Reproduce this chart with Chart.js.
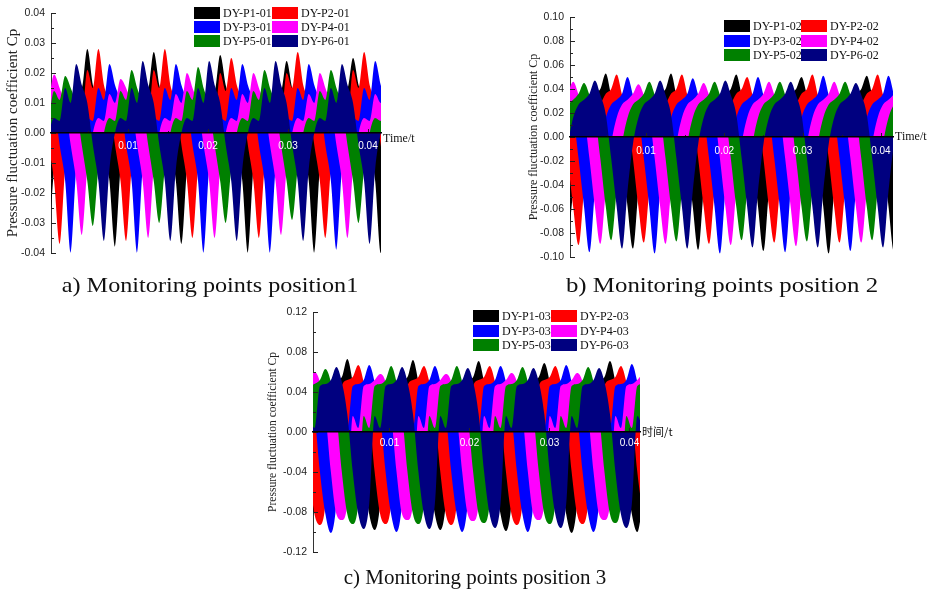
<!DOCTYPE html>
<html><head><meta charset="utf-8">
<script src="https://cdn.jsdelivr.net/npm/chart.js@4.4.1/dist/chart.umd.min.js"></script>
<style>
html,body{margin:0;padding:0;background:#fff;}
#wrap{position:relative;width:930px;height:592px;overflow:hidden;background:#fff;}
canvas{position:absolute;left:0;top:0;}
.cap{position:absolute;font-family:"Liberation Serif","Times New Roman",serif;font-size:22px;color:#111;white-space:nowrap;}
</style></head><body>
<div id="wrap">
<canvas id="ca" width="930" height="592"></canvas>
<canvas id="cb" width="930" height="592"></canvas>
<canvas id="cc" width="930" height="592"></canvas>
<div class="cap" style="left:210px;top:285px;transform:translate(-50%,-50%) scaleX(1.10);">a) Monitoring points position1</div>
<div class="cap" style="left:722px;top:285px;transform:translate(-50%,-50%) scaleX(1.13);">b) Monitoring points position 2</div>
<div class="cap" style="left:475px;top:577px;font-size:21px;transform:translate(-50%,-50%);">c) Monitoring points position 3</div>
</div>
<script>
// ---------- data ----------
const SERIES_NAMES = ['DY-P1','DY-P2','DY-P3','DY-P4','DY-P5','DY-P6'];
const COLORS = ['#000000','#ff0000','#0000ff','#ff00ff','#008000','#000080'];
const X_TICKS = [0.01, 0.02, 0.03, 0.04];
const Y_TICKS_A = [-0.04,-0.03,-0.02,-0.01,0,0.01,0.02,0.03,0.04];
const Y_TICKS_B = [-0.10,-0.08,-0.06,-0.04,-0.02,0,0.02,0.04,0.06,0.08,0.10];
const Y_TICKS_C = [-0.12,-0.08,-0.04,0,0.04,0.08,0.12];

// sampling of the time series (start, step) for each panel
const T0_A = 0.000069, DT_A = 0.000692;
const T0_B = 0.000000, DT_B = 0.0006944;
const T0_C = -0.000063, DT_C = 0.000684;

// Panel a) position 1
const A_P1 = [-0.038,-0.012,0.000,0.005,0.004,0.020,0.015,0.028,0.016,0.010,-0.004,-0.016,
 -0.038,-0.012,0.000,0.005,0.004,0.020,0.015,0.027,0.016,0.010,-0.004,-0.016,
 -0.037,-0.012,0.000,0.005,0.004,0.019,0.014,0.026,0.016,0.010,-0.004,-0.016,
 -0.040,-0.012,0.000,0.005,0.004,0.018,0.014,0.024,0.015,0.010,-0.004,-0.016,
 -0.040,-0.012,0.000,0.005,0.004,0.019,0.015,0.025,0.016,0.010,-0.004,-0.016,
 -0.040,-0.012];
const A_P2 = [-0.004,-0.016,-0.037,-0.012,0.000,0.005,0.004,0.021,0.015,0.028,0.016,0.010,
 -0.004,-0.016,-0.036,-0.012,0.000,0.005,0.004,0.021,0.015,0.028,0.016,0.010,
 -0.004,-0.016,-0.035,-0.012,0.000,0.005,0.004,0.020,0.014,0.025,0.016,0.010,
 -0.004,-0.016,-0.035,-0.012,0.000,0.005,0.004,0.020,0.015,0.027,0.016,0.010,
 -0.004,-0.016,-0.035,-0.012,0.000,0.005,0.004,0.021,0.015,0.027,0.016,0.010,
 -0.004,-0.016];
const A_P3 = [0.016,0.010,-0.004,-0.016,-0.040,-0.012,0.000,0.005,0.004,0.015,0.011,0.023,
 0.016,0.010,-0.004,-0.016,-0.040,-0.012,0.000,0.005,0.004,0.015,0.011,0.023,
 0.016,0.010,-0.004,-0.016,-0.040,-0.012,0.000,0.005,0.004,0.015,0.011,0.023,
 0.016,0.010,-0.004,-0.016,-0.040,-0.012,0.000,0.005,0.004,0.015,0.011,0.023,
 0.016,0.010,-0.004,-0.016,-0.039,-0.012,0.000,0.005,0.004,0.015,0.011,0.024,
 0.016,0.010];
const A_P4 = [0.010,0.0195,0.015,0.009,-0.004,-0.016,-0.034,-0.012,0.000,0.005,0.004,0.013,
 0.010,0.018,0.015,0.009,-0.004,-0.016,-0.035,-0.012,0.000,0.005,0.004,0.013,
 0.010,0.020,0.015,0.009,-0.004,-0.016,-0.035,-0.012,0.000,0.005,0.004,0.013,
 0.010,0.020,0.015,0.009,-0.004,-0.016,-0.034,-0.012,0.000,0.005,0.004,0.013,
 0.010,0.020,0.015,0.009,-0.004,-0.016,-0.035,-0.012,0.000,0.005,0.004,0.013,
 0.010,0.018];
const A_P5 = [0.004,0.014,0.011,0.019,0.015,0.009,-0.004,-0.016,-0.031,-0.012,0.000,0.005,
 0.004,0.014,0.011,0.021,0.015,0.009,-0.004,-0.016,-0.030,-0.012,0.000,0.005,
 0.004,0.014,0.011,0.022,0.015,0.009,-0.004,-0.016,-0.030,-0.012,0.000,0.005,
 0.004,0.014,0.011,0.021,0.015,0.009,-0.004,-0.016,-0.029,-0.012,0.000,0.005,
 0.004,0.014,0.011,0.021,0.015,0.009,-0.004,-0.016,-0.030,-0.012,0.000,0.005,
 0.004,0.014];
const A_P6 = [0.000,0.005,0.004,0.015,0.010,0.023,0.016,0.010,-0.004,-0.016,-0.036,-0.012,
 0.000,0.005,0.004,0.015,0.010,0.024,0.016,0.010,-0.004,-0.016,-0.036,-0.012,
 0.000,0.005,0.004,0.015,0.010,0.024,0.016,0.010,-0.004,-0.016,-0.036,-0.012,
 0.000,0.005,0.004,0.015,0.010,0.024,0.016,0.010,-0.004,-0.016,-0.036,-0.012,
 0.000,0.005,0.004,0.015,0.010,0.023,0.016,0.010,-0.004,-0.016,-0.037,-0.012,
 0.000,0.005];

// Panel b) position 2
const B_P1 = [-0.094,-0.045,-0.006,0.016,0.027,0.036,0.040,0.053,0.035,0.019,-0.018,-0.058,
 -0.093,-0.045,-0.006,0.016,0.027,0.036,0.040,0.053,0.035,0.019,-0.018,-0.058,
 -0.094,-0.045,-0.006,0.016,0.027,0.036,0.040,0.052,0.035,0.019,-0.018,-0.058,
 -0.095,-0.045,-0.006,0.016,0.027,0.036,0.040,0.050,0.035,0.019,-0.018,-0.058,
 -0.097,-0.045,-0.006,0.016,0.027,0.036,0.040,0.051,0.035,0.019,-0.018,-0.058,
 -0.096,-0.045];
const B_P2 = [-0.018,-0.058,-0.090,-0.045,-0.006,0.016,0.027,0.036,0.040,0.052,0.035,0.019,
 -0.018,-0.058,-0.088,-0.045,-0.006,0.016,0.027,0.036,0.040,0.052,0.035,0.019,
 -0.018,-0.058,-0.089,-0.045,-0.006,0.016,0.027,0.036,0.040,0.050,0.035,0.019,
 -0.018,-0.058,-0.088,-0.045,-0.006,0.016,0.027,0.036,0.040,0.052,0.035,0.019,
 -0.018,-0.058,-0.088,-0.045,-0.006,0.016,0.027,0.036,0.040,0.052,0.035,0.019,
 -0.018,-0.058];
const B_P3 = [0.035,0.019,-0.018,-0.058,-0.096,-0.045,-0.006,0.016,0.027,0.031,0.036,0.050,
 0.035,0.019,-0.018,-0.058,-0.097,-0.045,-0.006,0.016,0.027,0.031,0.036,0.049,
 0.035,0.019,-0.018,-0.058,-0.097,-0.045,-0.006,0.016,0.027,0.031,0.036,0.050,
 0.035,0.019,-0.018,-0.058,-0.096,-0.045,-0.006,0.016,0.027,0.031,0.036,0.051,
 0.035,0.019,-0.018,-0.058,-0.095,-0.045,-0.006,0.016,0.027,0.031,0.036,0.051,
 0.035,0.019];
const B_P4 = [0.036,0.046,0.035,0.019,-0.018,-0.058,-0.089,-0.045,-0.006,0.016,0.027,0.031,
 0.036,0.044,0.035,0.019,-0.018,-0.058,-0.089,-0.045,-0.006,0.016,0.027,0.031,
 0.036,0.045,0.035,0.019,-0.018,-0.058,-0.090,-0.045,-0.006,0.016,0.027,0.031,
 0.036,0.046,0.035,0.019,-0.018,-0.058,-0.091,-0.045,-0.006,0.016,0.027,0.031,
 0.036,0.046,0.035,0.019,-0.018,-0.058,-0.088,-0.045,-0.006,0.016,0.027,0.031,
 0.036,0.046];
const B_P5 = [0.027,0.031,0.036,0.045,0.035,0.019,-0.018,-0.058,-0.086,-0.045,-0.006,0.016,
 0.027,0.031,0.036,0.046,0.035,0.019,-0.018,-0.058,-0.087,-0.045,-0.006,0.016,
 0.027,0.031,0.036,0.046,0.035,0.019,-0.018,-0.058,-0.086,-0.045,-0.006,0.016,
 0.027,0.031,0.036,0.046,0.035,0.019,-0.018,-0.058,-0.087,-0.045,-0.006,0.016,
 0.027,0.031,0.036,0.046,0.035,0.019,-0.018,-0.058,-0.086,-0.045,-0.006,0.016,
 0.027,0.031];
const B_P6 = [-0.006,0.016,0.027,0.031,0.036,0.047,0.035,0.019,-0.018,-0.058,-0.093,-0.045,
 -0.006,0.016,0.027,0.031,0.036,0.047,0.035,0.019,-0.018,-0.058,-0.093,-0.045,
 -0.006,0.016,0.027,0.031,0.036,0.047,0.035,0.019,-0.018,-0.058,-0.092,-0.045,
 -0.006,0.016,0.027,0.031,0.036,0.046,0.035,0.019,-0.018,-0.058,-0.092,-0.045,
 -0.006,0.016,0.027,0.031,0.036,0.045,0.035,0.019,-0.018,-0.058,-0.092,-0.045,
 -0.006,0.016];

// Panel c) position 3
const C_P1 = [-0.095,-0.072,0.016,0.004,0.046,0.052,0.055,0.073,0.050,0.018,-0.040,-0.082,
 -0.098,-0.072,0.016,0.004,0.046,0.052,0.055,0.072,0.050,0.018,-0.040,-0.082,
 -0.098,-0.072,0.016,0.004,0.046,0.052,0.055,0.071,0.050,0.018,-0.040,-0.082,
 -0.099,-0.072,0.016,0.004,0.046,0.052,0.055,0.069,0.050,0.018,-0.040,-0.082,
 -0.101,-0.072,0.016,0.004,0.046,0.052,0.055,0.071,0.050,0.018,-0.040,-0.082,
 -0.100,-0.072];
const C_P2 = [-0.040,-0.082,-0.093,-0.072,0.016,0.004,0.046,0.052,0.055,0.067,0.050,0.018,
 -0.040,-0.082,-0.092,-0.072,0.016,0.004,0.046,0.052,0.055,0.066,0.050,0.018,
 -0.040,-0.082,-0.093,-0.072,0.016,0.004,0.046,0.052,0.055,0.066,0.050,0.018,
 -0.040,-0.082,-0.093,-0.072,0.016,0.004,0.046,0.052,0.055,0.066,0.050,0.018,
 -0.040,-0.082,-0.092,-0.072,0.016,0.004,0.046,0.052,0.055,0.066,0.050,0.018,
 -0.040,-0.082];
const C_P3 = [0.050,0.018,-0.040,-0.082,-0.101,-0.072,0.016,0.004,0.046,0.048,0.052,0.067,
 0.050,0.018,-0.040,-0.082,-0.100,-0.072,0.016,0.004,0.046,0.048,0.052,0.066,
 0.050,0.018,-0.040,-0.082,-0.100,-0.072,0.016,0.004,0.046,0.048,0.052,0.066,
 0.050,0.018,-0.040,-0.082,-0.100,-0.072,0.016,0.004,0.046,0.048,0.052,0.067,
 0.050,0.018,-0.040,-0.082,-0.100,-0.072,0.016,0.004,0.046,0.048,0.052,0.068,
 0.050,0.018];
const C_P4 = [0.052,0.060,0.050,0.018,-0.040,-0.082,-0.088,-0.072,0.016,0.004,0.046,0.048,
 0.052,0.058,0.050,0.018,-0.040,-0.082,-0.088,-0.072,0.016,0.004,0.046,0.048,
 0.052,0.058,0.050,0.018,-0.040,-0.082,-0.089,-0.072,0.016,0.004,0.046,0.048,
 0.052,0.059,0.050,0.018,-0.040,-0.082,-0.088,-0.072,0.016,0.004,0.046,0.048,
 0.052,0.059,0.050,0.018,-0.040,-0.082,-0.088,-0.072,0.016,0.004,0.046,0.048,
 0.052,0.059];
const C_P5 = [0.046,0.048,0.052,0.063,0.050,0.018,-0.040,-0.082,-0.092,-0.072,0.016,0.004,
 0.046,0.048,0.052,0.066,0.050,0.018,-0.040,-0.082,-0.092,-0.072,0.016,0.004,
 0.046,0.048,0.052,0.066,0.050,0.018,-0.040,-0.082,-0.091,-0.072,0.016,0.004,
 0.046,0.048,0.052,0.065,0.050,0.018,-0.040,-0.082,-0.092,-0.072,0.016,0.004,
 0.046,0.048,0.052,0.065,0.050,0.018,-0.040,-0.082,-0.091,-0.072,0.016,0.004,
 0.046,0.048];
const C_P6 = [0.016,0.004,0.046,0.048,0.052,0.065,0.050,0.018,-0.040,-0.082,-0.097,-0.072,
 0.016,0.004,0.046,0.048,0.052,0.065,0.050,0.018,-0.040,-0.082,-0.097,-0.072,
 0.016,0.004,0.046,0.048,0.052,0.064,0.050,0.018,-0.040,-0.082,-0.096,-0.072,
 0.016,0.004,0.046,0.048,0.052,0.064,0.050,0.018,-0.040,-0.082,-0.096,-0.072,
 0.016,0.004,0.046,0.048,0.052,0.064,0.050,0.018,-0.040,-0.082,-0.096,-0.072,
 0.016,0.004];

// ---------- drawing ----------
function timeGrid(t0, dt, n) { return Array.from({length: n}, (_, i) => t0 + i * dt); }

function makeDecor(cfg) {
  return {
    id: 'decor',
    afterDatasetsDraw(chart) {
      const ctx = chart.ctx, ys = chart.scales.y, xs = chart.scales.x, ca = chart.chartArea;
      ctx.save();
      ctx.strokeStyle = '#222';
      ctx.lineWidth = 1;
      const seg = (x1, y1, x2, y2) => { ctx.beginPath(); ctx.moveTo(x1, y1); ctx.lineTo(x2, y2); ctx.stroke(); };
      const yt = cfg.yTicks;
      for (let k = 0; k < yt.length; k++) {
        const py = Math.round(ys.getPixelForValue(yt[k])) + 0.5;
        seg(ca.left, py, ca.left + 5, py);
        if (k < yt.length - 1) {
          const pm = Math.round(ys.getPixelForValue((yt[k] + yt[k + 1]) / 2)) + 0.5;
          seg(ca.left, pm, ca.left + 3, pm);
        }
      }
      const y0 = ys.getPixelForValue(0);
      const xt = [0.005, 0.01, 0.015, 0.02, 0.025, 0.03, 0.035, 0.04];
      xt.forEach((v, k) => {
        const px = Math.round(xs.getPixelForValue(v)) + 0.5;
        if (px > ca.left && px < ca.right) seg(px, y0, px, y0 - (k % 2 ? 4 : 2));
      });
      // legend
      ctx.textBaseline = 'middle';
      ctx.textAlign = 'left';
      ctx.font = '12px "Liberation Serif", "Times New Roman", serif';
      chart.data.datasets.forEach((ds, i) => {
        const col = i % 2, row = Math.floor(i / 2);
        const bx = cfg.legend.bx[col], by = cfg.legend.by[row];
        ctx.fillStyle = ds.backgroundColor;
        ctx.fillRect(bx, by, 26, 12);
        ctx.fillStyle = '#111';
        ctx.fillText(ds.label, cfg.legend.tx[col], by + 6.5);
      });
      // axis name at the right end of the time axis
      ctx.font = cfg.xName.font;
      ctx.fillStyle = '#111';
      ctx.fillText(cfg.xName.text, ca.right + 2, y0 + cfg.xName.dy);
      ctx.restore();
    }
  };
}

function makePanel(id, cfg) {
  const datasets = cfg.series.map((vals, k) => ({
    label: SERIES_NAMES[k] + cfg.suffix,
    data: vals.map((v, i) => ({x: cfg.time[i], y: v})),
    backgroundColor: COLORS[k],
    borderColor: COLORS[k],
    borderWidth: 0,
    pointRadius: 0,
    fill: 'origin',
    cubicInterpolationMode: 'monotone',
    order: 5 - k
  }));
  new Chart(document.getElementById(id), {
    type: 'line',
    data: {datasets},
    options: {
      responsive: false,
      animation: false,
      events: [],
      layout: {padding: cfg.pad},
      plugins: {legend: {display: false}, tooltip: {enabled: false}},
      scales: {
        x: {
          type: 'linear', min: cfg.xMin, max: cfg.xMax,
          position: {y: 0},
          grid: {display: false, drawTicks: false},
          border: {display: true, color: '#000', width: 1.6, z: 1},
          ticks: {
            z: 1, color: '#ffffff', padding: cfg.xPad, maxRotation: 0, autoSkip: false,
            font: {family: 'Liberation Sans', size: 10},
            callback: v => Number(v).toFixed(2)
          },
          afterBuildTicks: s => { s.ticks = X_TICKS.map(v => ({value: v})); },
          afterFit: s => { s.height = 0; }
        },
        y: {
          type: 'linear', min: cfg.yTicks[0], max: cfg.yTicks[cfg.yTicks.length - 1],
          position: 'left',
          grid: {display: false, drawTicks: false},
          border: {display: true, color: '#333', width: 1},
          ticks: {
            color: '#222', padding: 6,
            font: {family: 'Liberation Sans', size: 10.5},
            callback: v => Number(v).toFixed(2)
          },
          title: {
            display: true, text: 'Pressure fluctuation coefficient Cp', color: '#222',
            font: {family: 'Liberation Serif', size: cfg.titleSize},
            padding: {top: cfg.titlePad, bottom: 0}
          },
          afterBuildTicks: s => { s.ticks = cfg.yTicks.map(v => ({value: v})); },
          afterFit: s => { s.width = cfg.yWidth; }
        }
      }
    },
    plugins: [makeDecor(cfg)]
  });
}

makePanel('ca', {
  suffix: '-01',
  series: [A_P1, A_P2, A_P3, A_P4, A_P5, A_P6],
  time: timeGrid(T0_A, DT_A, 62),
  xMin: 0.000375, xMax: 0.041625,
  yTicks: Y_TICKS_A,
  pad: {left: 4, right: 549, top: 13, bottom: 339},
  yWidth: 47, titlePad: 0, titleSize: 15, xPad: 7,
  legend: {bx: [194, 272], by: [7, 21, 35], tx: [223, 301]},
  xName: {text: 'Time/t', font: '12px "Liberation Serif", serif', dy: 6}
});
makePanel('cb', {
  suffix: '-02',
  series: [B_P1, B_P2, B_P3, B_P4, B_P5, B_P6],
  time: timeGrid(T0_B, DT_B, 62),
  xMin: 0.000294, xMax: 0.041545,
  yTicks: Y_TICKS_B,
  pad: {left: 527, right: 37, top: 17, bottom: 335},
  yWidth: 43, titlePad: 0, titleSize: 12, xPad: 8,
  legend: {bx: [724, 801], by: [20, 35, 49], tx: [753, 830]},
  xName: {text: 'Time/t', font: '12px "Liberation Serif", serif', dy: 0}
});
makePanel('cc', {
  suffix: '-03',
  series: [C_P1, C_P2, C_P3, C_P4, C_P5, C_P6],
  time: timeGrid(T0_C, DT_C, 62),
  xMin: 0.000438, xMax: 0.041313,
  yTicks: Y_TICKS_C,
  pad: {left: 266, right: 290, top: 312, bottom: 40},
  yWidth: 47, titlePad: 0, titleSize: 11.5, xPad: 5,
  legend: {bx: [473, 551], by: [310, 325, 339], tx: [502, 580]},
  xName: {text: '时间/t', font: '11px "Noto Sans CJK SC", sans-serif', dy: 0}
});
</script>
</body></html>
